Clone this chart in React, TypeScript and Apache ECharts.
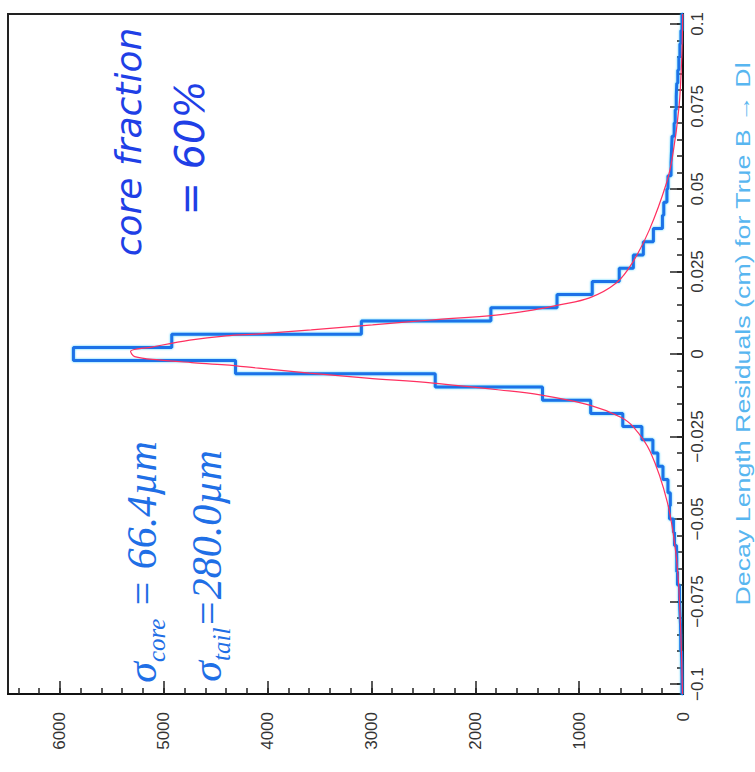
import React, { useEffect, useRef } from "react";
import * as echarts from "echarts";

// ---- data ----
const AXIS_MIN = -0.103;
const AXIS_MAX = 0.103;
const COUNT_MAX = 6500;
const BIN_WIDTH = 0.004;

const BIN_CENTERS = [
  -0.1, -0.096, -0.092, -0.088, -0.084, -0.08, -0.076, -0.072, -0.068, -0.064,
  -0.06, -0.056, -0.052, -0.048, -0.044, -0.04, -0.036, -0.032, -0.028, -0.024,
  -0.02, -0.016, -0.012, -0.008, -0.004, 0, 0.004, 0.008, 0.012, 0.016,
  0.02, 0.024, 0.028, 0.032, 0.036, 0.04, 0.044, 0.048, 0.052, 0.056,
  0.06, 0.064, 0.068, 0.072, 0.076, 0.08, 0.084, 0.088, 0.092, 0.096, 0.1,
];
const BIN_COUNTS = [
  10, 12, 15, 22, 24, 30, 34, 34, 53, 60,
  63, 82, 92, 130, 122, 145, 193, 242, 290, 396,
  580, 889, 1353, 2386, 4309, 5870, 4923, 3097, 1850, 1213,
  874, 614, 478, 382, 285, 198, 185, 155, 145, 115,
  110, 105, 85, 75, 65, 60, 50, 40, 30, 20, 10,
];

const FIT_RESIDUALS = [
  -0.103, -0.09, -0.08, -0.07, -0.06, -0.045, -0.0297, -0.0221, -0.0191, -0.0155,
  -0.0124, -0.0109, -0.0088, -0.0073, -0.0058, -0.0043, -0.0033, -0.0026, -0.0018, -0.0008,
  0.0008, 0.0021, 0.0042, 0.0055, 0.0061, 0.0073, 0.0088, 0.0103, 0.0118, 0.0133,
  0.0149, 0.017, 0.0215, 0.0276, 0.0376, 0.0518, 0.06, 0.075, 0.09, 0.103,
];
const FIT_COUNTS = [
  5, 15, 27, 42, 70, 150, 314, 478, 604, 899,
  1377, 1763, 2406, 3043, 3600, 4087, 4406, 4730, 5048, 5280,
  5320, 5116, 4750, 4400, 4082, 3580, 2990, 2425, 1800, 1450,
  1190, 900, 643, 488, 324, 159, 100, 38, 12, 3,
];

const RESIDUAL_TICKS = [-0.1, -0.075, -0.05, -0.025, 0, 0.025, 0.05, 0.075, 0.1];
const RESIDUAL_LABELS = ["\u22120.1", "\u22120.075", "\u22120.05", "\u22120.025", "0", "0.025", "0.05", "0.075", "0.1"];
const COUNT_TICKS = [0, 1000, 2000, 3000, 4000, 5000, 6000];
const COUNT_LABELS = ["0", "1000", "2000", "3000", "4000", "5000", "6000"];
const RESIDUAL_MINOR_STEP = 0.005;
const COUNT_MINOR_STEP = 200;

const TITLE = "Decay Length Residuals (cm) for True B \u2192 Dl";

function buildOutline(): number[][] {
  const pts: number[][] = [[0, AXIS_MIN]];
  BIN_CENTERS.forEach((c, i) => {
    const lo = i === 0 ? AXIS_MIN : c - BIN_WIDTH / 2;
    const hi = i === BIN_CENTERS.length - 1 ? AXIS_MAX : c + BIN_WIDTH / 2;
    pts.push([BIN_COUNTS[i], lo]);
    pts.push([BIN_COUNTS[i], hi]);
  });
  pts.push([0, AXIS_MAX]);
  return pts;
}

function range(from: number, to: number, step: number): number[] {
  const out: number[] = [];
  const n = Math.round((to - from) / step);
  for (let i = 0; i <= n; i++) out.push(+(from + i * step).toFixed(6));
  return out;
}

function lookup(ticks: number[], labels: string[], v: number): string {
  for (let i = 0; i < ticks.length; i++) if (Math.abs(ticks[i] - v) < 1e-9) return labels[i];
  return "";
}

export default function App() {
  const ref = useRef<HTMLDivElement>(null);
  useEffect(() => {
    if (!ref.current) return;
    const chart = echarts.init(ref.current, null, { renderer: "svg" });
    const labelFont = { fontFamily: "Liberation Sans", fontSize: 17, color: "#333" };
    const axisLineStyle = { color: "#111", width: 2 };
    const tickStyle = { color: "#222", width: 1.5 };
    const serif = { fontFamily: "Liberation Serif", fontStyle: "italic" as const, fill: "#1f6fe6" };
    const rich = {
      s: { ...serif, fontSize: 42, lineHeight: 54, verticalAlign: "middle" },
      b: { ...serif, fontSize: 25, lineHeight: 25, verticalAlign: "bottom" },
      n: { ...serif, fontSize: 42, lineHeight: 54, verticalAlign: "middle" },
    };
    chart.setOption({
      animation: false,
      backgroundColor: "#fff",
      grid: { left: 8, right: 72, top: 14, bottom: 78, show: true, borderColor: "#222", borderWidth: 2 },
      xAxis: [
        {
          type: "value", inverse: true, min: 0, max: COUNT_MAX, position: "bottom",
          axisLine: { show: true, onZero: false, lineStyle: axisLineStyle },
          axisTick: { show: true, inside: true, length: 13, customValues: COUNT_TICKS, lineStyle: tickStyle },
          axisLabel: {
            show: true, rotate: 90, margin: 18, customValues: COUNT_TICKS, ...labelFont,
            formatter: (v: number) => lookup(COUNT_TICKS, COUNT_LABELS, v),
          },
          splitLine: { show: false },
        },
        {
          type: "value", inverse: true, min: 0, max: COUNT_MAX, position: "bottom",
          axisLine: { show: false, onZero: false },
          axisTick: { show: true, inside: true, length: 6, customValues: range(0, 6400, COUNT_MINOR_STEP), lineStyle: tickStyle },
          axisLabel: { show: false },
          splitLine: { show: false },
        },
      ],
      yAxis: [
        {
          type: "value", min: AXIS_MIN, max: AXIS_MAX, position: "right",
          axisLine: { show: true, onZero: false, lineStyle: axisLineStyle },
          axisTick: { show: true, inside: true, length: 13, customValues: RESIDUAL_TICKS, lineStyle: tickStyle },
          axisLabel: {
            show: true, rotate: 90, margin: 6, customValues: RESIDUAL_TICKS, ...labelFont,
            formatter: (v: number) => lookup(RESIDUAL_TICKS, RESIDUAL_LABELS, v),
          },
          splitLine: { show: false },
        },
        {
          type: "value", min: AXIS_MIN, max: AXIS_MAX, position: "right",
          axisLine: { show: false, onZero: false },
          axisTick: { show: true, inside: true, length: 6, customValues: range(-0.1, 0.1, RESIDUAL_MINOR_STEP), lineStyle: tickStyle },
          axisLabel: { show: false },
          splitLine: { show: false },
        },
      ],
      series: [
        {
          type: "line", xAxisIndex: 0, yAxisIndex: 0, data: buildOutline(),
          showSymbol: false, symbol: "none", clip: true, z: 3,
          lineStyle: { color: "#1d72e8", width: 3, shadowColor: "rgba(0,190,255,0.7)", shadowBlur: 2 },
        },
        {
          type: "line", xAxisIndex: 0, yAxisIndex: 0,
          data: FIT_RESIDUALS.map((r, i) => [FIT_COUNTS[i], r]),
          showSymbol: false, symbol: "none", smooth: 0.35, clip: true, z: 4,
          lineStyle: { color: "#ff3060", width: 1.2 },
        },
      ],
      graphic: [
        {
          type: "text", x: 128, y: 142, rotation: Math.PI / 2, z: 10,
          style: { text: "core fraction", x: 0, y: 0, align: "center", verticalAlign: "middle", fill: "#1f3fe6", font: 'italic 36px "DejaVu Sans"' },
        },
        {
          type: "text", x: 190, y: 148, rotation: Math.PI / 2, z: 10,
          style: { text: "= 60%", x: 0, y: 0, align: "center", verticalAlign: "middle", fill: "#1f3fe6", font: 'italic 40px "DejaVu Sans"' },
        },
        {
          type: "text", x: 142, y: 562, rotation: Math.PI / 2, z: 10,
          style: { text: "{s|\u03c3}{b|core}{n| = 66.4\u00b5m}", x: 0, y: 0, align: "center", verticalAlign: "middle", rich },
        },
        {
          type: "text", x: 207, y: 566, rotation: Math.PI / 2, z: 10,
          style: { text: "{s|\u03c3}{b|tail}{n|=280.0\u00b5m}", x: 0, y: 0, align: "center", verticalAlign: "middle", rich },
        },
        {
          type: "text", x: 743, y: 334, rotation: Math.PI / 2, scaleX: 1.34, z: 10,
          style: { text: TITLE, x: 0, y: 0, align: "center", verticalAlign: "middle", fill: "#58b6f0", font: '20px "Liberation Sans"' },
        },
      ],
    });
    return () => chart.dispose();
  }, []);
  return (
    <div
      ref={ref}
      style={{ position: "fixed", left: 0, top: 0, width: 755, height: 772, background: "#fff" }}
    />
  );
}
